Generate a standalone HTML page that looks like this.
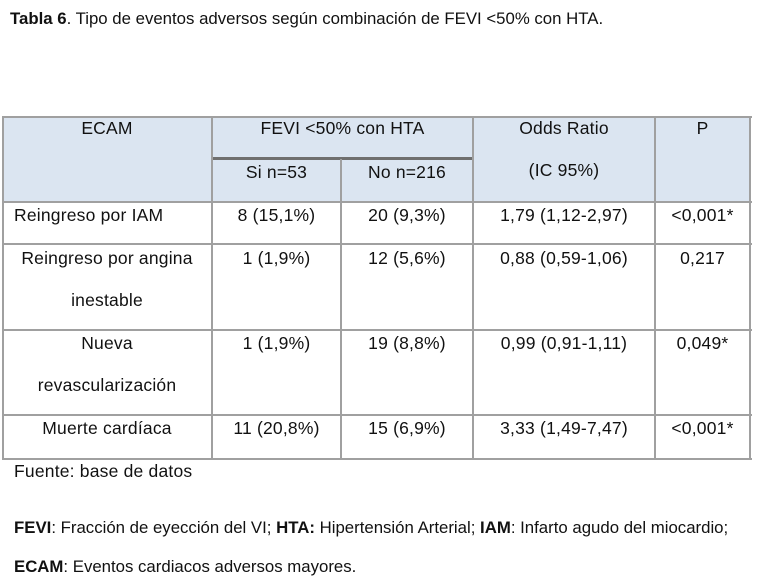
<!DOCTYPE html>
<html><head><meta charset="utf-8"><style>
body{margin:0;width:764px;height:581px;background:#fff;position:relative;overflow:hidden;font-family:"Liberation Sans",Arial,sans-serif;color:#111}
.t{position:absolute;font-size:17.5px;line-height:20px;white-space:nowrap;letter-spacing:0.2px}
.c{text-align:center}
.b{position:absolute;background:#a0a0a0}
</style></head><body>
<div class="t" style="left:10px;top:9px;font-size:16.8px;letter-spacing:0"><b>Tabla 6</b>. Tipo de eventos adversos según combinación de FEVI &lt;50% con HTA.</div>
<div style="position:absolute;left:2px;top:117px;width:748px;height:85px;background:#dbe5f1"></div>
<div class="b" style="left:2px;top:116px;width:750px;height:2px"></div>
<div class="b" style="left:212px;top:157px;width:261px;height:3px;background:#6f6f6f"></div>
<div class="b" style="left:2px;top:201px;width:750px;height:2px"></div>
<div class="b" style="left:2px;top:243px;width:750px;height:2px"></div>
<div class="b" style="left:2px;top:329px;width:750px;height:2px"></div>
<div class="b" style="left:2px;top:414px;width:750px;height:2px"></div>
<div class="b" style="left:2px;top:458px;width:750px;height:2px"></div>
<div class="b" style="left:2px;top:116px;width:2px;height:344px"></div>
<div class="b" style="left:211px;top:116px;width:2px;height:344px"></div>
<div class="b" style="left:340px;top:159px;width:2px;height:301px"></div>
<div class="b" style="left:472px;top:116px;width:2px;height:344px"></div>
<div class="b" style="left:654px;top:116px;width:2px;height:344px"></div>
<div class="b" style="left:749px;top:116px;width:2px;height:344px"></div>
<div class="t c" style="left:2px;width:210px;top:118px">ECAM</div>
<div class="t c" style="left:212px;width:261px;top:118px">FEVI &lt;50% con HTA</div>
<div class="t c" style="left:473px;width:182px;top:118px">Odds Ratio</div>
<div class="t c" style="left:655px;width:95px;top:118px">P</div>
<div class="t c" style="left:212px;width:129px;top:162px">Si n=53</div>
<div class="t c" style="left:341px;width:132px;top:162px">No n=216</div>
<div class="t c" style="left:473px;width:182px;top:160px">(IC 95%)</div>
<div class="t" style="left:14px;top:205px">Reingreso por IAM</div>
<div class="t c" style="left:212px;width:129px;top:205px">8 (15,1%)</div>
<div class="t c" style="left:341px;width:132px;top:205px">20 (9,3%)</div>
<div class="t c" style="left:473px;width:182px;top:205px">1,79 (1,12-2,97)</div>
<div class="t c" style="left:655px;width:95px;top:205px">&lt;0,001*</div>
<div class="t c" style="left:2px;width:210px;top:248px">Reingreso por angina</div>
<div class="t c" style="left:2px;width:210px;top:290px">inestable</div>
<div class="t c" style="left:212px;width:129px;top:248px">1 (1,9%)</div>
<div class="t c" style="left:341px;width:132px;top:248px">12 (5,6%)</div>
<div class="t c" style="left:473px;width:182px;top:248px">0,88 (0,59-1,06)</div>
<div class="t c" style="left:655px;width:95px;top:248px">0,217</div>
<div class="t c" style="left:2px;width:210px;top:333px">Nueva</div>
<div class="t c" style="left:2px;width:210px;top:375px">revascularización</div>
<div class="t c" style="left:212px;width:129px;top:333px">1 (1,9%)</div>
<div class="t c" style="left:341px;width:132px;top:333px">19 (8,8%)</div>
<div class="t c" style="left:473px;width:182px;top:333px">0,99 (0,91-1,11)</div>
<div class="t c" style="left:655px;width:95px;top:333px">0,049*</div>
<div class="t c" style="left:2px;width:210px;top:418px">Muerte cardíaca</div>
<div class="t c" style="left:212px;width:129px;top:418px">11 (20,8%)</div>
<div class="t c" style="left:341px;width:132px;top:418px">15 (6,9%)</div>
<div class="t c" style="left:473px;width:182px;top:418px">3,33 (1,49-7,47)</div>
<div class="t c" style="left:655px;width:95px;top:418px">&lt;0,001*</div>
<div class="t" style="left:14px;top:461px">Fuente: base de datos</div>
<div class="t" style="left:14px;top:518px;font-size:16.8px;letter-spacing:0"><b>FEVI</b>: Fracción de eyección del VI; <b>HTA:</b> Hipertensión Arterial; <b>IAM</b>: Infarto agudo del miocardio;</div>
<div class="t" style="left:14px;top:557px;font-size:16.8px;letter-spacing:0"><b>ECAM</b>: Eventos cardiacos adversos mayores.</div>
</body></html>
